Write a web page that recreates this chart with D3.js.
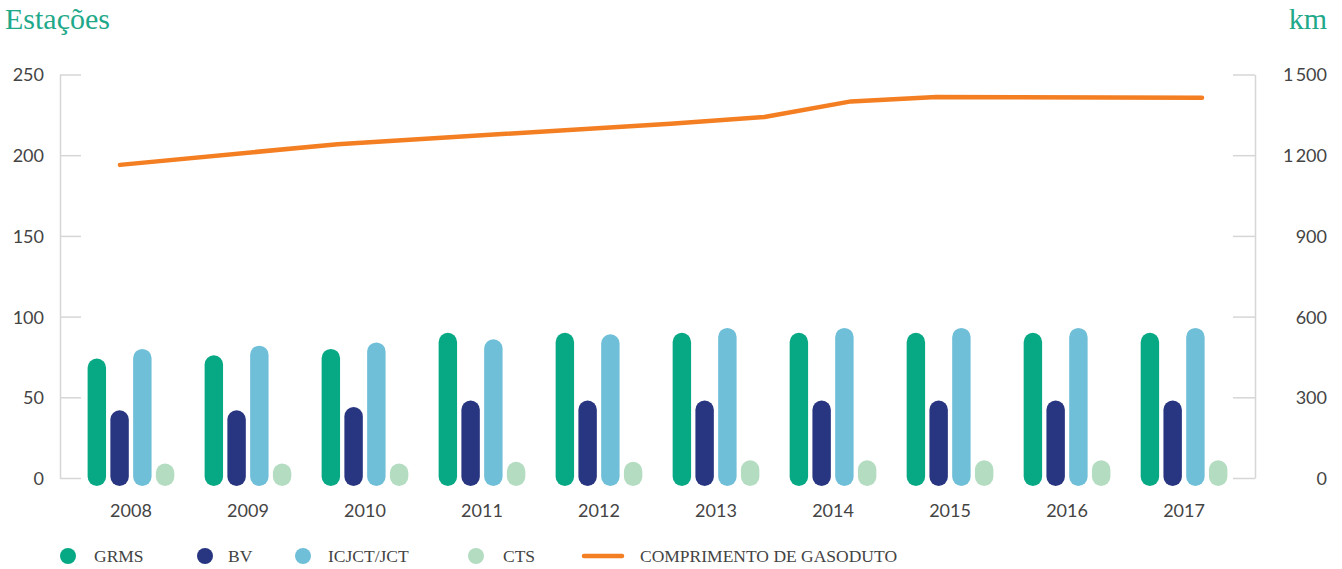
<!DOCTYPE html>
<html>
<head>
<meta charset="utf-8">
<script src="https://cdn.jsdelivr.net/npm/d3@7"></script>
<style>
  body { margin: 0; background: #fff; }
  .axis path, .axis line { stroke: #d6d6d6; stroke-width: 1.5; }
  .axis text { font-family: Lato, sans-serif; font-size: 18px; fill: #444; }
  .year { font-family: Lato, sans-serif; font-size: 18px; fill: #444; }
  .unit { font-family: "Liberation Serif", serif; font-size: 30px; fill: #1fa98a; }
  .legend text { font-family: "Liberation Serif", serif; font-size: 17.5px; fill: #444; }
</style>
</head>
<body>
<div class="chart"></div>
<script>
const years = ['2008', '2009', '2010', '2011', '2012', '2013', '2014', '2015', '2016', '2017'];
const grms = [74, 76, 80, 90, 90, 90, 90, 90, 90, 90];
const bv = [42, 42, 44, 48, 48, 48, 48, 48, 48, 48];
const icjct = [80, 82, 84, 86, 89, 93, 93, 93, 93, 93];
const cts = [9, 9, 9, 10, 10, 11, 11, 11, 11, 11];

// gas pipeline length (km)
const lineYears = [2008, 2009.81, 2012.58, 2013.36, 2014.08, 2014.79, 2017];
const lineKm = [1164, 1241, 1317, 1342, 1400, 1416, 1414];

const leftTicks = [0, 50, 100, 150, 200, 250];
const rightTicks = [0, 300, 600, 900, 1200, 1500];

const seriesNames = ['GRMS', 'BV', 'ICJCT/JCT', 'CTS'];
const colors = ['#07a985', '#283580', '#6fbfd8', '#b3dcc1'];
const lineColor = '#f47e22';

const w = 1342;
const h = 569;
const margin = { top: 74.5, right: 87, bottom: 91, left: 60 };

const series = [grms, bv, icjct, cts];

const svg = d3.select('.chart')
              .append('svg')
              .attr('width', w)
              .attr('height', h);

const xScale = d3.scaleBand()
                 .domain(years)
                 .range([margin.left, w - margin.right])
                 .paddingInner(0.259)
                 .paddingOuter(0.236);

const xInner = d3.scaleBand()
                 .domain(seriesNames)
                 .range([0, xScale.bandwidth()])
                 .paddingInner(0.19);

const yScale = d3.scaleLinear()
                 .domain([0, 250])
                 .range([h - margin.bottom, margin.top]);

const y2Scale = d3.scaleLinear()
                  .domain([0, 1500])
                  .range(yScale.range());

const center = yr => xScale(yr) + xScale.bandwidth() / 2;

const lineX = d3.scaleLinear()
                .domain([2008, 2017])
                .range([center('2008') - 11, center('2017') + 18]);

const fmt = d3.formatLocale({ decimal: ',', thousands: '\u2009', grouping: [3], currency: ['', ''] }).format(',d');

// axes
svg.append('g')
   .attr('class', 'axis')
   .attr('transform', `translate(${margin.left}, 0)`)
   .call(d3.axisLeft(yScale).tickValues(leftTicks).tickSizeInner(-21).tickSizeOuter(0).tickPadding(16))
   .call(g => g.selectAll('text').attr('dy', '0.36em'));

svg.append('g')
   .attr('class', 'axis')
   .attr('transform', `translate(${w - margin.right}, 0)`)
   .call(d3.axisRight(y2Scale).tickValues(rightTicks).tickFormat(fmt).tickSizeInner(-22).tickSizeOuter(0))
   .call(g => g.selectAll('text').attr('x', 72).attr('text-anchor', 'end').attr('dy', '0.36em'));

// bars (pills)
const bw = xInner.bandwidth();
series.forEach((vals, si) => {
  svg.append('g')
     .selectAll('rect')
     .data(vals)
     .enter()
     .append('rect')
     .attr('x', (d, i) => xScale(years[i]) + xInner(seriesNames[si]))
     .attr('y', d => yScale(d))
     .attr('width', bw)
     .attr('height', d => yScale(0) - yScale(d) + 8)
     .attr('rx', bw / 2)
     .attr('ry', bw / 2)
     .attr('fill', colors[si]);
});

// line
const lineData = lineYears.map((yr, i) => [yr, lineKm[i]]);
svg.append('path')
   .datum(lineData)
   .attr('fill', 'none')
   .attr('stroke', lineColor)
   .attr('stroke-width', 4.5)
   .attr('stroke-linecap', 'round')
   .attr('stroke-linejoin', 'round')
   .attr('d', d3.line().x(d => lineX(d[0])).y(d => y2Scale(d[1])));

// year labels
svg.append('g')
   .selectAll('text')
   .data(years)
   .enter()
   .append('text')
   .attr('class', 'year')
   .attr('x', d => center(d))
   .attr('y', 517)
   .attr('text-anchor', 'middle')
   .text(d => d);

// unit titles
svg.append('text')
   .attr('class', 'unit')
   .attr('x', 5)
   .attr('y', 29)
   .text('Estações');

svg.append('text')
   .attr('class', 'unit')
   .attr('x', 1327)
   .attr('y', 29)
   .attr('text-anchor', 'end')
   .text('km');

// legend
const legend = svg.append('g').attr('class', 'legend');
const dotX = [68, 205, 303, 476];
const textX = [94, 228, 328, 503];
seriesNames.forEach((name, i) => {
  legend.append('circle')
        .attr('cx', dotX[i])
        .attr('cy', 556)
        .attr('r', 8)
        .attr('fill', colors[i]);
  legend.append('text')
        .attr('x', textX[i])
        .attr('y', 562)
        .text(name);
});
legend.append('line')
      .attr('x1', 584)
      .attr('x2', 622)
      .attr('y1', 556)
      .attr('y2', 556)
      .attr('stroke', lineColor)
      .attr('stroke-width', 4.5)
      .attr('stroke-linecap', 'round');
legend.append('text')
      .attr('x', 640)
      .attr('y', 562)
      .text('COMPRIMENTO DE GASODUTO');
</script>
</body>
</html>
